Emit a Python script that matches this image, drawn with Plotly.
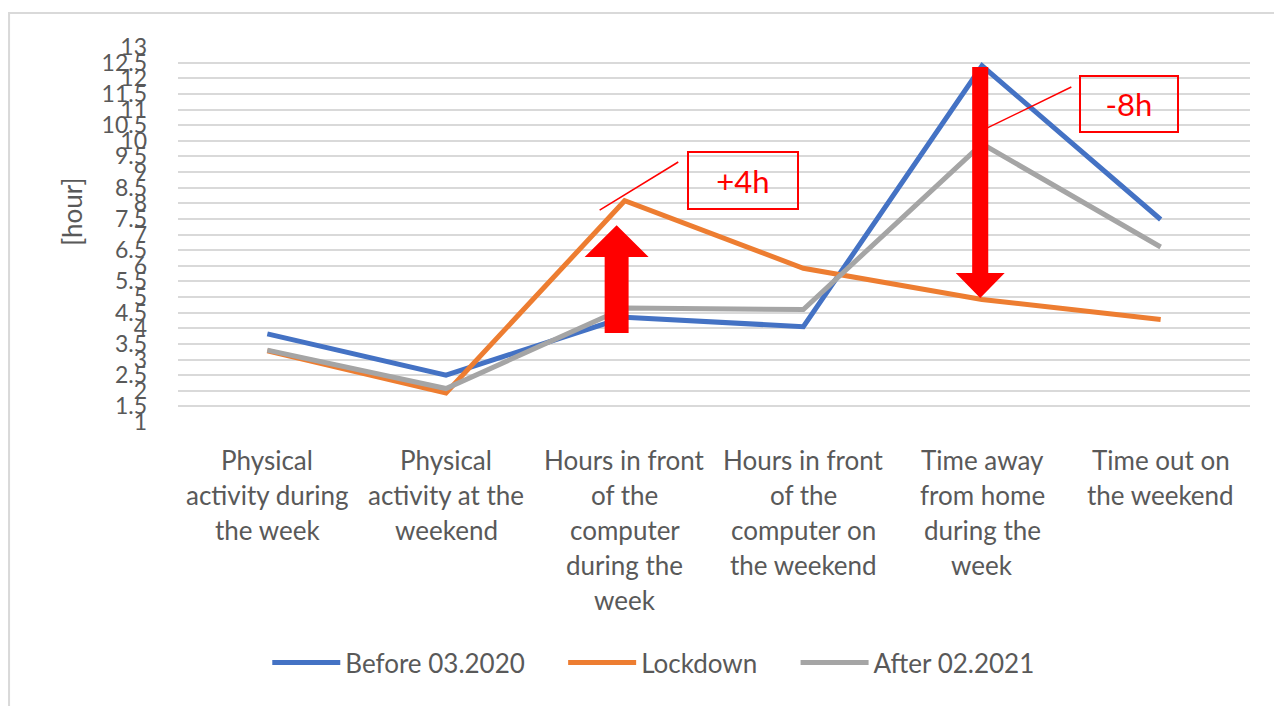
import plotly.graph_objects as go

categories = [
    "Physical<br>activity during<br>the week",
    "Physical<br>activity at the<br>weekend",
    "Hours in front<br>of the<br>computer<br>during the<br>week",
    "Hours in front<br>of the<br>computer on<br>the weekend",
    "Time away<br>from home<br>during the<br>week",
    "Time out on<br>the weekend",
]
before = [3.82, 2.5, 4.35, 4.05, 12.4, 7.48]
lockdown = [3.28, 1.93, 8.08, 5.92, 4.92, 4.28]
after = [3.3, 2.07, 4.65, 4.6, 9.9, 6.6]
series_names = ["Before 03.2020", "Lockdown", "After 02.2021"]
colors = ["#4472C4", "#ED7D31", "#A5A5A5"]
ytick_vals = [1 + 0.5 * i for i in range(25)]
ytick_text = [("%g" % v) for v in ytick_vals]

FONT = "Lato"
TXT = "#595959"
x_idx = list(range(len(categories)))
PAD = "&nbsp;" * 5

fig = go.Figure()
for j, (name, vals, c) in enumerate(zip(series_names, [before, lockdown, after], colors)):
    legname = name + (PAD if j < len(series_names) - 1 else "")
    fig.add_trace(go.Scatter(x=x_idx, y=vals, mode="lines", name=legname,
                             line=dict(color=c, width=5)))

# category labels as line-by-line annotations
annotations = []
for i, lab in enumerate(categories):
    for k, line in enumerate(lab.split("<br>")):
        annotations.append(dict(x=i, y=0, xref="x", yref="paper", text=line,
                                showarrow=False, yanchor="middle", xanchor="center",
                                yshift=-38 - 35 * k,
                                font=dict(family=FONT, size=26, color=TXT)))
annotations.append(dict(x=-0.099, y=0.56, xref="paper", yref="paper", text="[hour]",
                        textangle=-90, showarrow=False, xanchor="center", yanchor="middle",
                        font=dict(family=FONT, size=26, color=TXT)))
# callout boxes
annotations.append(dict(x=2.66, y=8.74, xref="x", yref="y", text="+4h", showarrow=False,
                        width=106, height=53, bordercolor="#FF0000", borderwidth=2,
                        font=dict(family=FONT, size=31, color="#FF0000")))
annotations.append(dict(x=4.82, y=11.17, xref="x", yref="y", text="-8h", showarrow=False,
                        width=94, height=52, bordercolor="#FF0000", borderwidth=2,
                        font=dict(family=FONT, size=31, color="#FF0000")))

def arrow_path(xc, y_tail, y_head_base, y_tip, shaft_hw, head_hw):
    return (f"M{xc - shaft_hw},{y_tail} L{xc - shaft_hw},{y_head_base} "
            f"L{xc - head_hw},{y_head_base} L{xc},{y_tip} L{xc + head_hw},{y_head_base} "
            f"L{xc + shaft_hw},{y_head_base} L{xc + shaft_hw},{y_tail} Z")

shapes = [
    dict(type="path", xref="x", yref="y", layer="above",
         path=arrow_path(1.955, 3.85, 6.28, 7.30, 0.067, 0.179),
         fillcolor="#FF0000", line=dict(width=0)),
    dict(type="path", xref="x", yref="y", layer="above",
         path=arrow_path(3.99, 12.36, 5.77, 4.97, 0.045, 0.137),
         fillcolor="#FF0000", line=dict(width=0)),
    dict(type="line", xref="x", yref="y", x0=1.86, y0=7.78, x1=2.30, y1=9.32,
         line=dict(color="#FF0000", width=1.5), layer="above"),
    dict(type="line", xref="x", yref="y", x0=4.03, y0=10.41, x1=4.50, y1=11.72,
         line=dict(color="#FF0000", width=1.5), layer="above"),
    dict(type="rect", xref="paper", yref="paper", x0=-0.1576, x1=1.06, y0=-0.85, y1=1.0907,
         line=dict(color="#D9D9D9", width=2), fillcolor="rgba(0,0,0,0)", layer="below"),
]

fig.update_layout(
    width=1274, height=698,
    margin=dict(l=170, r=32, t=39, b=284),
    paper_bgcolor="white", plot_bgcolor="white",
    font=dict(family=FONT, color=TXT),
    showlegend=True,
    legend=dict(orientation="h", xref="container", yref="container", x=0.5065, y=0.062,
                xanchor="center", yanchor="middle", itemwidth=68,
                font=dict(family=FONT, size=26, color=TXT)),
    xaxis=dict(range=[-0.5, 5.5], showgrid=False, zeroline=False, showticklabels=False,
               showline=False, fixedrange=True),
    yaxis=dict(range=[1, 13], tickvals=ytick_vals, ticktext=ytick_text,
               showgrid=True, gridcolor="#D9D9D9", gridwidth=2, zeroline=False,
               showline=False, ticklabelstandoff=30,
               tickfont=dict(family=FONT, size=23, color=TXT)),
    annotations=annotations,
    shapes=shapes,
)

fig.write_html("out.html")
